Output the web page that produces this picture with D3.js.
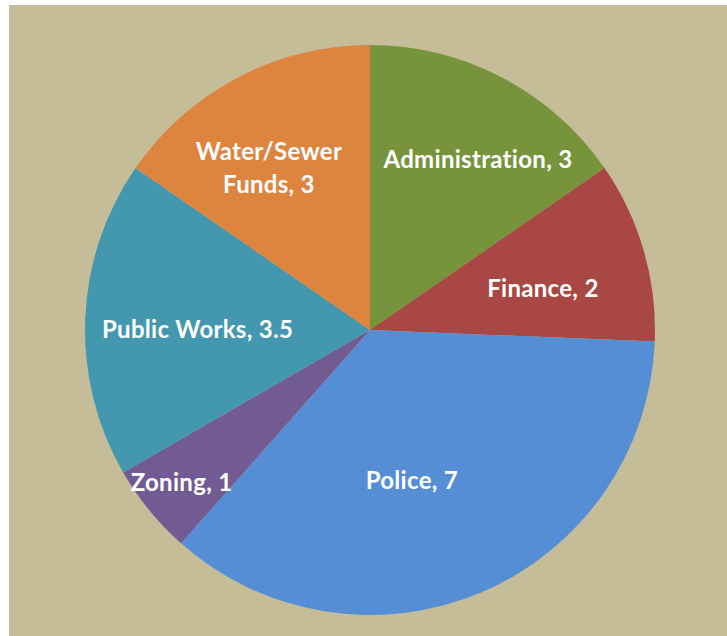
<!DOCTYPE html>
<html>
<head>
<meta charset="utf-8">
<script src="https://cdn.jsdelivr.net/npm/d3@7"></script>
<style>
  html, body { margin: 0; padding: 0; background: #ffffff; }
  svg { display: block; }
</style>
</head>
<body>
<svg id="chart" width="727" height="636"></svg>
<script>
// Staffing by department
const categories = ["Administration", "Finance", "Police", "Zoning", "Public Works", "Water/Sewer Funds"];
const values = [3, 2, 7, 1, 3.5, 3];
const labelLines = [
  ["Administration, 3"],
  ["Finance, 2"],
  ["Police, 7"],
  ["Zoning, 1"],
  ["Public Works, 3.5"],
  ["Water/Sewer", "Funds, 3"]
];
const colors = ["#77933C", "#A94745", "#558ED5", "#725A93", "#4398AF", "#DD843F"];

// Label placement relative to each slice: angular shift (deg) and radius fraction
const labelPlacement = [
  { shift: 4.7, rf: 0.707 },
  { shift: 2.6, rf: 0.624 },
  { shift: 7.5, rf: 0.547 },
  { shift: 0.3, rf: 0.85 },
  { shift: -2.1, rf: 0.605 },
  { shift: -4.2, rf: 0.671 }
];

const W = 727, H = 636;
const svg = d3.select("#chart");

// plot area background
svg.append("rect")
  .attr("x", 9).attr("y", 5)
  .attr("width", W - 9).attr("height", H - 5)
  .attr("fill", "#C4BD97");

const cx = 370, cy = 330, R = 285;
const g = svg.append("g").attr("transform", `translate(${cx},${cy})`);

const pie = d3.pie().sort(null).value(d => d.value);
const arcs = pie(categories.map((c, i) => ({ category: c, value: values[i], i })));
const arc = d3.arc().innerRadius(0).outerRadius(R);

g.selectAll("path.slice")
  .data(arcs)
  .join("path")
  .attr("class", "slice")
  .attr("d", arc)
  .attr("fill", d => colors[d.data.i]);

const lineH = 33;
const labels = g.selectAll("text.lbl")
  .data(arcs)
  .join("text")
  .attr("class", "lbl")
  .attr("font-family", "Lato, 'Open Sans', sans-serif")
  .attr("font-weight", "bold")
  .attr("font-size", 24)
  .attr("letter-spacing", 0.3)
  .attr("fill", "#ffffff")
  .attr("text-anchor", "middle")
  .attr("transform", d => {
    const p = labelPlacement[d.data.i];
    const a = (d.startAngle + d.endAngle) / 2 + p.shift * Math.PI / 180;
    const r = p.rf * R;
    return `translate(${r * Math.sin(a)},${-r * Math.cos(a)})`;
  });

labels.each(function(d) {
  const lines = labelLines[d.data.i];
  const t = d3.select(this);
  const n = lines.length;
  lines.forEach((ln, k) => {
    t.append("tspan")
      .attr("x", 0)
      .attr("y", (k - (n - 1) / 2) * lineH)
      .attr("dy", "0.36em")
      .text(ln);
  });
});
</script>
</body>
</html>
